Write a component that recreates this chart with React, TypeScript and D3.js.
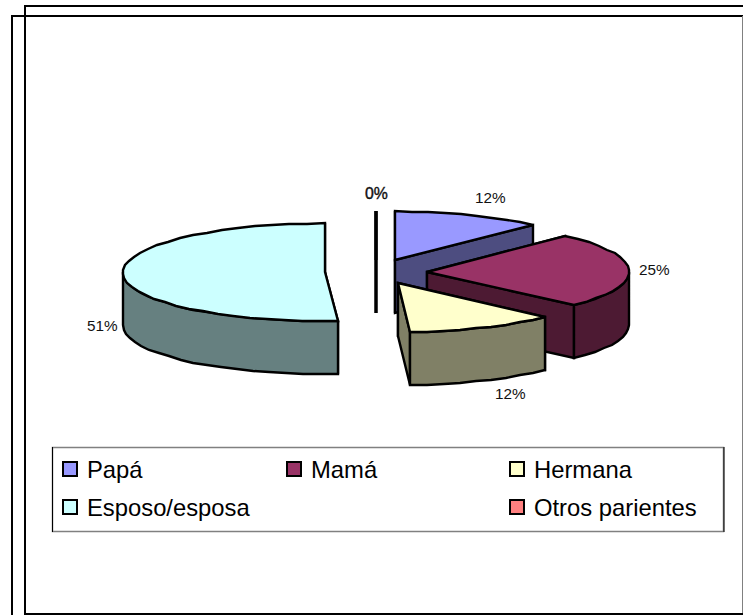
import React from "react";
import * as d3 from "d3";

const categories = ["Papá", "Mamá", "Hermana", "Esposo/esposa", "Otros parientes"];
const values = [12, 25, 12, 51, 0];
const topColors = ["#9999FF", "#993366", "#FFFFCC", "#CCFFFF", "#FF8080"];
const wallColors = ["#4D4D80", "#4D1A33", "#808066", "#668080", "#804040"];
const paintOrder = [0, 4, 3, 1, 2];
const valueLabels = ["12%", "25%", "12%", "51%", "0%"];
const labelAnchors = [
  { x: 475, y: 203 },
  { x: 639, y: 275 },
  { x: 495, y: 399 },
  { x: 87, y: 331 },
  { x: 365, y: 199 },
];
const legendCells = [
  { col: 0, row: 0 },
  { col: 1, row: 0 },
  { col: 2, row: 0 },
  { col: 0, row: 1 },
  { col: 2, row: 1 },
];

const W = 743;
const H = 615;
const cx = 376;
const cy = 272;
const rx = 202;
const ry = 49;
const depth = 53;
const explode = 51;

const pieGen = d3.pie<number>().sort(null).value((d) => d);
const arcs = pieGen(values);

type P = [number, number];
const px = d3.scaleLinear().domain([-1, 1]).range([-rx, rx]);
const py = d3.scaleLinear().domain([-1, 1]).range([-ry, ry]);
const rim = (a: number, c: P): P => [c[0] + px(Math.sin(a)), c[1] + py(-Math.cos(a))];
const sampleRim = (a0: number, a1: number, c: P): P[] => {
  const n = Math.max(1, Math.ceil(Math.abs(a1 - a0) / 0.09));
  return d3.range(n + 1).map((i) => {
    const p = rim(a0 + ((a1 - a0) * i) / n, c);
    return [Math.round(p[0]), Math.round(p[1])] as P;
  });
};
const down = (p: P): P => [p[0], p[1] + depth];
const line = d3.line<P>();
const closed = (pts: P[]) => (line(pts) as string) + "Z";

function Slice({ i }: { i: number }) {
  const a = arcs[i];
  const mid = (a.startAngle + a.endAngle) / 2;
  const c: P = [cx + px((explode / rx) * Math.sin(mid)), cy + py((-explode / rx) * Math.cos(mid))];
  const apex: P = [Math.round(c[0]), Math.round(c[1])];
  const top = sampleRim(a.startAngle, a.endAngle, c);
  const common = { stroke: "#000", strokeWidth: values[i] === 0 ? 3 : 2.4, strokeLinejoin: "miter" as const };
  const faces: P[][] = [];
  const cut = (p: P) => [apex, p, down(p), down(apex)];
  faces.push(cut(top[0]));
  faces.push(cut(top[top.length - 1]));
  const f0 = Math.max(a.startAngle, Math.PI / 2);
  const f1 = Math.min(a.endAngle, (3 * Math.PI) / 2);
  if (f1 > f0) {
    const r = sampleRim(f0, f1, c);
    faces.push([...r, ...r.map(down).reverse()]);
  }
  return (
    <g>
      {faces.map((f, k) => (
        <path key={k} d={closed(f)} fill={wallColors[i]} {...common} />
      ))}
      <path d={closed([apex, ...top])} fill={topColors[i]} {...common} />
    </g>
  );
}

const colX = d3.scaleOrdinal<number, number>().domain([0, 1, 2]).range([62, 286, 509]);
const rowY = d3.scaleOrdinal<number, number>().domain([0, 1]).range([470, 508]);

export default function App() {
  return (
    <svg
      width={W}
      height={H}
      viewBox={`0 0 ${W} ${H}`}
      style={{ position: "absolute", left: 0, top: 0, background: "#fff" }}
      fontFamily="'Liberation Sans', Arial, sans-serif"
    >
      <line x1={12} y1={15} x2={12} y2={H} stroke="#000" strokeWidth={2} />
      <line x1={11} y1={16} x2={W} y2={16} stroke="#000" strokeWidth={2} />
      <line x1={25} y1={5} x2={25} y2={615} stroke="#000" strokeWidth={2} />
      <line x1={24} y1={6} x2={W} y2={6} stroke="#000" strokeWidth={2} />
      <line x1={24} y1={614} x2={W} y2={614} stroke="#000" strokeWidth={2} />
      <line x1={742.5} y1={16} x2={742.5} y2={613} stroke="#808080" strokeWidth={1} />

      {paintOrder.map((i) => (
        <Slice key={i} i={i} />
      ))}

      {valueLabels.map((t, i) => (
        <text key={i} x={labelAnchors[i].x} y={labelAnchors[i].y} fontSize={i === 4 ? 15.8 : 15.3} fill="#111" stroke={i === 4 ? "#111" : "none"} strokeWidth={0.4}>
          {t}
        </text>
      ))}

      <rect x={52.5} y={447.5} width={671} height={84} fill="#fff" stroke="#808080" strokeWidth={1.5} />
      <line x1={52.5} y1={447} x2={52.5} y2={532} stroke="#000" strokeWidth={1} />
      <line x1={724} y1={447} x2={724} y2={532} stroke="#000" strokeWidth={1} />
      {categories.map((c, i) => {
        const x = colX(legendCells[i].col);
        const y = rowY(legendCells[i].row);
        return (
          <g key={c}>
            <rect x={x + 1} y={y - 8} width={14} height={14} fill={topColors[i]} stroke="#000" strokeWidth={2} />
            <text x={x + 25} y={y + 8} fontSize={23.8} fill="#000">
              {c}
            </text>
          </g>
        );
      })}
    </svg>
  );
}
